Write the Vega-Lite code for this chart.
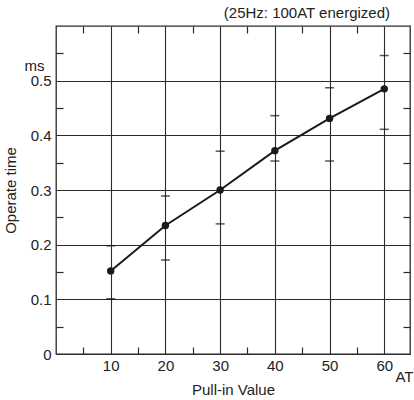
{
  "$schema": "https://vega.github.io/schema/vega-lite/v6.json",
  "width": 354,
  "height": 328,
  "autosize": "none",
  "padding": {"left": 56, "top": 26, "right": 4, "bottom": 46},
  "background": "white",
  "config": {
    "font": "Liberation Sans",
    "view": {"stroke": "#2a2a2a", "strokeWidth": 1.3},
    "axis": {"labelFont": "Liberation Sans", "titleFont": "Liberation Sans", "labelColor": "#222", "titleColor": "#222", "labelFontSize": 15, "titleFontSize": 15, "titleFontWeight": "normal", "tickColor": "#2a2a2a", "tickWidth": 1.2, "gridColor": "#2a2a2a", "gridWidth": 1.1}
  },
  "title": {"text": "(25Hz: 100AT energized)", "anchor": "end", "frame": "group", "fontSize": 15, "fontWeight": "normal", "color": "#222", "font": "Liberation Sans", "dx": -20, "offset": 4},
  "data": {
    "values": [
      {"pull": 10, "time": 0.152, "lo": 0.101, "hi": 0.198},
      {"pull": 20, "time": 0.235, "lo": 0.172, "hi": 0.289},
      {"pull": 30, "time": 0.300, "lo": 0.238, "hi": 0.371},
      {"pull": 40, "time": 0.372, "lo": 0.353, "hi": 0.436},
      {"pull": 50, "time": 0.431, "lo": 0.353, "hi": 0.487},
      {"pull": 60, "time": 0.485, "lo": 0.411, "hi": 0.546}
    ]
  },
  "resolve": {"axis": {"x": "independent", "y": "independent"}},
  "layer": [
    {
      "mark": {"type": "line", "color": "#1a1a1a", "strokeWidth": 2},
      "encoding": {
        "x": {
          "field": "pull", "type": "quantitative",
          "scale": {"domain": [0, 64.7], "nice": false, "zero": false},
          "axis": {
            "orient": "bottom",
            "title": "Pull-in Value",
            "titleY": 28,
            "titleBaseline": "top",
            "values": [5, 10, 15, 20, 25, 30, 35, 40, 45, 50, 55, 60, 64.7],
            "labelExpr": "datum.value == 64.7 ? 'AT' : (datum.value % 10 == 0 ? format(datum.value, 'd') : '')",
            "labelFlush": false,
            "labelOverlap": false,
            "labelPadding": {"condition": {"test": "datum.value == 64.7", "value": 22}, "value": 11},
            "labelOffset": {"condition": {"test": "datum.value == 64.7", "value": -6}, "value": 0},
            "domain": false,
            "grid": true,
            "gridOpacity": {"condition": {"test": "datum.value % 10 == 0", "value": 1}, "value": 0},
            "ticks": true,
            "tickSize": -7,
            "tickOpacity": {"condition": {"test": "datum.value % 10 == 0 || datum.value == 64.7", "value": 0}, "value": 1}
          }
        },
        "y": {
          "field": "time", "type": "quantitative",
          "scale": {"domain": [0, 0.6], "nice": false, "zero": false},
          "axis": {
            "orient": "left",
            "title": "Operate time",
            "titleX": -38,
            "values": [0, 0.05, 0.1, 0.15, 0.2, 0.25, 0.3, 0.35, 0.4, 0.45, 0.5, 0.55],
            "labelExpr": "datum.value == 0.55 ? 'ms' : (abs(datum.value * 10 - round(datum.value * 10)) < 0.001 ? format(datum.value, '.1~f') : '')",
            "labelOverlap": false,
            "labelFlush": false,
            "labelPadding": {"condition": {"test": "datum.value == 0.55", "value": 19}, "value": 12},
            "labelOffset": {"condition": {"test": "datum.value == 0.55", "value": 12}, "value": 0},
            "domain": false,
            "grid": true,
            "gridOpacity": {"condition": {"test": "abs(datum.value * 10 - round(datum.value * 10)) < 0.001", "value": 1}, "value": 0},
            "ticks": true,
            "tickSize": -7,
            "tickOpacity": {"condition": {"test": "abs(datum.value * 10 - round(datum.value * 10)) < 0.001", "value": 0}, "value": 1}
          }
        }
      }
    },
    {
      "mark": {"type": "point", "filled": true, "color": "#1a1a1a", "size": 55, "opacity": 1},
      "encoding": {
        "x": {
          "field": "pull", "type": "quantitative",
          "axis": {"orient": "top", "title": null, "values": [5, 15, 25, 35, 45, 55], "labels": false, "domain": false, "grid": false, "ticks": true, "tickSize": -7}
        },
        "y": {
          "field": "time", "type": "quantitative",
          "axis": {"orient": "right", "title": null, "values": [0.05, 0.15, 0.25, 0.35, 0.45, 0.55], "labels": false, "domain": false, "grid": false, "ticks": true, "tickSize": -7}
        }
      }
    },
    {
      "mark": {"type": "tick", "orient": "horizontal", "color": "#111", "size": 9, "thickness": 1.5},
      "encoding": {
        "x": {"field": "pull", "type": "quantitative", "axis": null},
        "y": {"field": "lo", "type": "quantitative", "axis": null}
      }
    },
    {
      "mark": {"type": "tick", "orient": "horizontal", "color": "#111", "size": 9, "thickness": 1.5},
      "encoding": {
        "x": {"field": "pull", "type": "quantitative", "axis": null},
        "y": {"field": "hi", "type": "quantitative", "axis": null}
      }
    }
  ]
}
